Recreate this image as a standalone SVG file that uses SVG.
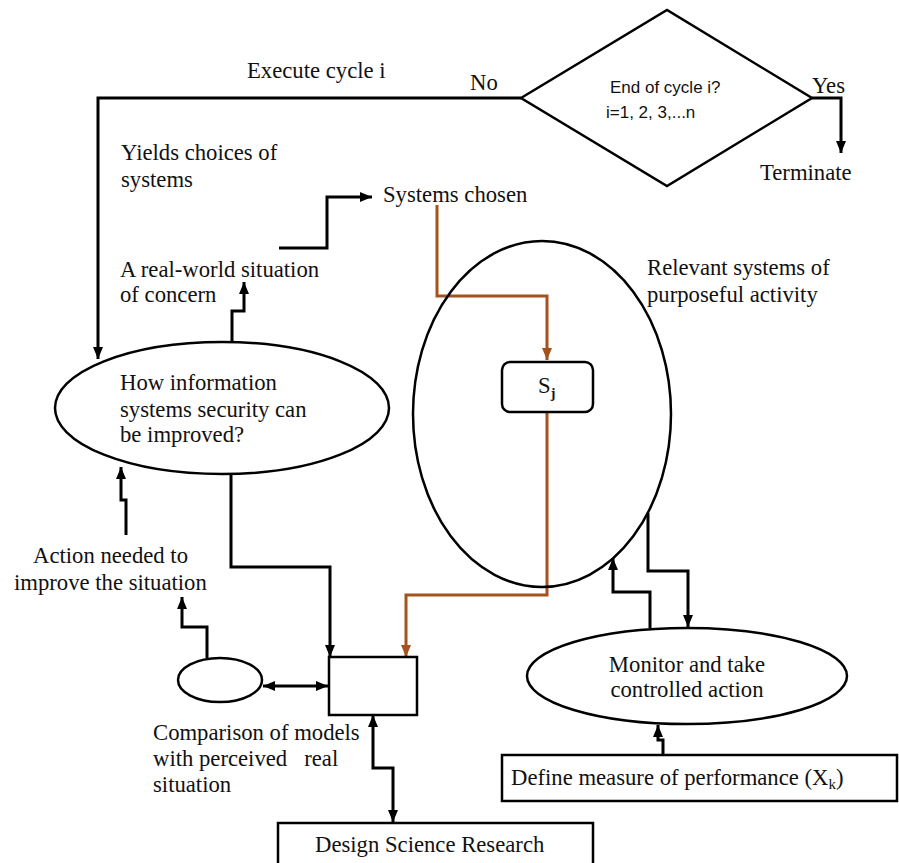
<svg xmlns="http://www.w3.org/2000/svg" width="899" height="863" viewBox="0 0 899 863">
<style>
.shape{fill:#fff;stroke:#000;stroke-width:2.5}
.conn{fill:none;stroke:#000;stroke-width:3}
.org{fill:none;stroke:#A5521C;stroke-width:3}
.t{font-family:"Liberation Serif","Times New Roman",serif;font-size:22.7px;fill:#111}
.a{font-family:"Liberation Sans",Arial,sans-serif;font-size:17px;fill:#111}
</style>
<defs>
<marker id="ah" markerUnits="userSpaceOnUse" markerWidth="13" markerHeight="11" refX="12" refY="5.5" orient="auto-start-reverse"><path d="M0,0.5 L12,5.5 L0,10.5 z" fill="#000"/></marker>
<marker id="aho" markerUnits="userSpaceOnUse" markerWidth="13" markerHeight="11" refX="12" refY="5.5" orient="auto"><path d="M0,0.5 L12,5.5 L0,10.5 z" fill="#A5521C"/></marker>
</defs>
<rect width="899" height="863" fill="#fff"/>

<g id="connectors">
<path class="conn" d="M521,98 L98,98 L98,359" marker-end="url(#ah)"/>
<path class="conn" d="M812,98 L841,98 L841,153" marker-end="url(#ah)"/>
<path class="conn" d="M279,248 L327,248 L327,197 L372,197" marker-end="url(#ah)"/>
<path class="conn" d="M232,342 L232,311 L244,311 L244,282" marker-end="url(#ah)"/>
<path class="org" d="M437,205 L437,296 L547,296 L547,360" marker-end="url(#aho)"/>
<path class="org" d="M547,412 L547,595 L406,595 L406,657" marker-end="url(#aho)"/>
<path class="conn" d="M231,474 L231,567 L330,567 L330,657" marker-end="url(#ah)"/>
<path class="conn" d="M126,535 L126,500 L121,500 L121,467" marker-end="url(#ah)"/>
<path class="conn" d="M207,658 L207,627 L182,627 L182,597" marker-end="url(#ah)"/>
<path class="conn" d="M263,686 L328,686" marker-start="url(#ah)" marker-end="url(#ah)"/>
<path class="conn" d="M373,715 L373,768 L393,768 L393,822" marker-start="url(#ah)" marker-end="url(#ah)"/>
<path class="conn" d="M650,628 L650,592 L613,592 L613,558" marker-end="url(#ah)"/>
<path class="conn" d="M648,513 L648,571 L688,571 L688,627" marker-end="url(#ah)"/>
<path class="conn" d="M663,755 L663,740 L658,740 L658,725" marker-end="url(#ah)"/>
</g>

<g id="decision">
<polygon class="shape" points="521,98 667,10 812,98 667,186"/>
<text class="a" x="610" y="93">End of cycle i?</text>
<text class="a" x="606" y="118">i=1, 2, 3,...n</text>
</g>

<g id="labels">
<text class="t" x="247" y="78">Execute cycle i</text>
<text class="t" x="470" y="90">No</text>
<text class="t" x="812" y="93">Yes</text>
<text class="t" x="760" y="180">Terminate</text>
<text class="t" x="121" y="160">Yields choices of</text>
<text class="t" x="121" y="187">systems</text>
<text class="t" x="383" y="202">Systems chosen</text>
<text class="t" x="120" y="277">A real-world situation</text>
<text class="t" x="120" y="302">of concern</text>
<text class="t" x="647" y="275">Relevant systems of</text>
<text class="t" x="647" y="302">purposeful activity</text>
<text class="t" x="33" y="563">Action needed to</text>
<text class="t" x="14" y="590">improve the situation</text>
<text class="t" x="153" y="740">Comparison of models</text>
<text class="t" x="153" y="766" xml:space="preserve">with perceived   real</text>
<text class="t" x="153" y="792">situation</text>
</g>

<g id="relevant-systems">
<ellipse class="shape" cx="542" cy="414" rx="129" ry="173" style="fill:none"/>
</g>

<g id="sj">
<rect class="shape" x="502" y="362" width="91" height="50" rx="8"/>
<text class="t" x="538" y="393" font-size="20">S<tspan font-size="14" font-weight="bold" dy="5">j</tspan></text>
</g>

<g id="problem">
<ellipse class="shape" cx="222" cy="408" rx="167" ry="66"/>
<text class="t" x="120" y="390">How information</text>
<text class="t" x="120" y="417">systems security can</text>
<text class="t" x="120" y="442">be improved?</text>
</g>

<g id="model">
<ellipse class="shape" cx="220" cy="680" rx="42" ry="22"/>
</g>

<g id="comparison">
<rect class="shape" x="329" y="657" width="88" height="58"/>
</g>

<g id="monitor">
<ellipse class="shape" cx="687" cy="676" rx="160" ry="48"/>
<text class="t" x="687" y="672" text-anchor="middle">Monitor and take</text>
<text class="t" x="687" y="697" text-anchor="middle">controlled action</text>
</g>

<g id="measure">
<rect class="shape" x="502" y="755" width="395" height="46"/>
<text class="t" x="511" y="785">Define measure of performance (X<tspan font-size="15" dy="4">k</tspan><tspan dy="-4">)</tspan></text>
</g>

<g id="dsr">
<rect class="shape" x="278" y="823" width="315" height="50"/>
<text class="t" x="315" y="852">Design Science Research</text>
</g>
</svg>
